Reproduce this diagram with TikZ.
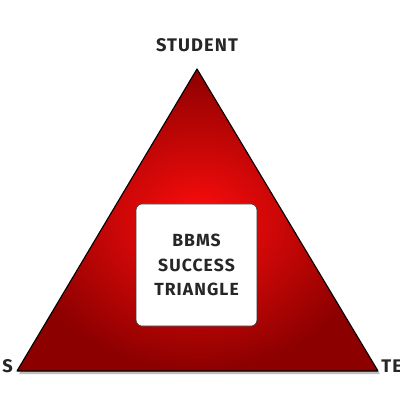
\documentclass[tikz,border=0pt]{standalone}
\usepackage{fontspec}
\setmainfont{Fira Sans}[LetterSpace=6]
\usetikzlibrary{calc,positioning}

\begin{document}
\begin{tikzpicture} [x=0.025cm,y=-0.025cm,{lbl/.style={font=\fontsize{13}{14}\selectfont\bfseries,color=black!85,inner sep=0pt}},{box/.style={rectangle,draw=black!80,fill=white,thin,rounded corners=1.5mm,minimum width=3.02cm,minimum height=3.05cm,align=center,font=\fontsize{12.5}{17.5}\selectfont\bfseries,text=black!85}}]
	%%frame
	\useasboundingbox (0,0) rectangle (400,400);
	%%corners of triangle
	\coordinate (T) at (197,69);
	\coordinate (L) at (17,371);
	\coordinate (R) at (378,371);
	%%shadow
	\fill [black!25] ($(T)+(2,3)$)--($(L)+(2,3)$)--($(R)+(2,3)$)--cycle;
	%%triangle
	\shade [inner color=red!95!white,outer color=red!55!black,draw=black,line width=0.8pt,line join=round] (T)--(L)--(R)--cycle;
	%%labels
	\node [lbl] (stud) at (197,45) {STUDENT};
	\node [lbl,anchor=east] (par) at (13,366) {S};
	\node [lbl,anchor=west] (tea) at (381,366) {TE};
	%%centre box
	\node [box] (core) at (196.5,265) {BBMS\\SUCCESS\\TRIANGLE};
\end{tikzpicture}
\end{document}
